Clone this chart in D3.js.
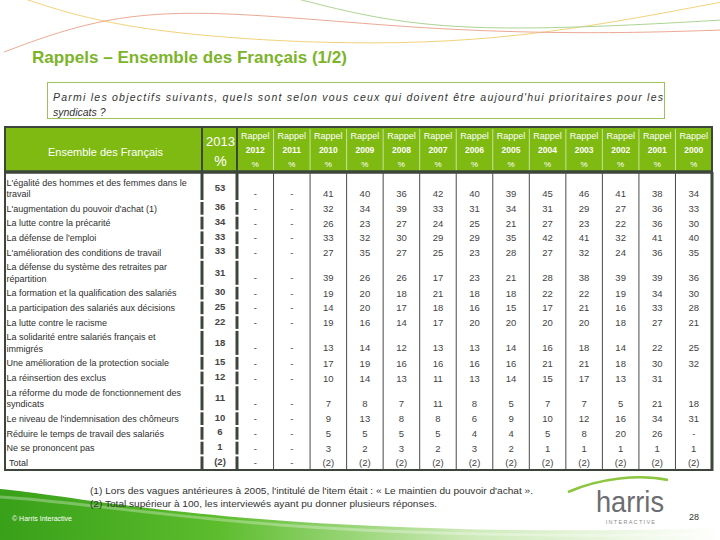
<!DOCTYPE html>
<html>
<head>
<meta charset="utf-8">
<script src="https://cdn.jsdelivr.net/npm/d3@7"></script>
<style>
  body { margin: 0; background: #fff; }
  svg { display: block; font-family: "Liberation Sans", Arial, sans-serif; }
</style>
</head>
<body>
<div id="chart"></div>
<script>
// Items (line breaks as in the original table)
const categories = [
    "L'égalité des hommes et des femmes dans le\ntravail",
    "L'augmentation du pouvoir d'achat (1)",
    "La lutte contre la précarité",
    "La défense de l'emploi",
    "L'amélioration des conditions de travail",
    "La défense du système des retraites par\nrépartition",
    "La formation et la qualification des salariés",
    "La participation des salariés aux décisions",
    "La lutte contre le racisme",
    "La solidarité entre salariés français et\nimmigrés",
    "Une amélioration de la protection sociale",
    "La réinsertion des exclus",
    "La réforme du mode de fonctionnement des\nsyndicats",
    "Le niveau de l'indemnisation des chômeurs",
    "Réduire le temps de travail des salariés",
    "Ne se prononcent pas",
    "Total"
];

const years = ["2012", "2011", "2010", "2009", "2008", "2007", "2006", "2005", "2004", "2003", "2002", "2001", "2000"];

// 2013 wave
const v2013 = [53, 36, 34, 33, 33, 31, 30, 25, 22, 18, 15, 12, 11, 10, 6, 1, "(2)"];

// previous waves ("-" = not asked, "" = empty cell)
const r2012 = ["-", "-", "-", "-", "-", "-", "-", "-", "-", "-", "-", "-", "-", "-", "-", "-", "-"];
const r2011 = ["-", "-", "-", "-", "-", "-", "-", "-", "-", "-", "-", "-", "-", "-", "-", "-", "-"];
const r2010 = [41, 32, 26, 33, 27, 39, 19, 14, 19, 13, 17, 10, 7, 9, 5, 3, "(2)"];
const r2009 = [40, 34, 23, 32, 35, 26, 20, 20, 16, 14, 19, 14, 8, 13, 5, 2, "(2)"];
const r2008 = [36, 39, 27, 30, 27, 26, 18, 17, 14, 12, 16, 13, 7, 8, 5, 3, "(2)"];
const r2007 = [42, 33, 24, 29, 25, 17, 21, 18, 17, 13, 16, 11, 11, 8, 5, 2, "(2)"];
const r2006 = [40, 31, 25, 29, 23, 23, 18, 16, 20, 13, 16, 13, 8, 6, 4, 3, "(2)"];
const r2005 = [39, 34, 21, 35, 28, 21, 18, 15, 20, 14, 16, 14, 5, 9, 4, 2, "(2)"];
const r2004 = [45, 31, 27, 42, 27, 28, 22, 17, 20, 16, 21, 15, 7, 10, 5, 1, "(2)"];
const r2003 = [46, 29, 23, 41, 32, 38, 22, 21, 20, 18, 21, 17, 7, 12, 8, 1, "(2)"];
const r2002 = [41, 27, 22, 32, 24, 39, 19, 16, 18, 14, 18, 13, 5, 16, 20, 1, "(2)"];
const r2001 = [38, 36, 36, 41, 36, 39, 34, 33, 27, 22, 30, 31, 21, 34, 26, 1, "(2)"];
const r2000 = [34, 33, 30, 40, 35, 36, 30, 28, 21, 25, 32, "", 18, 31, "-", 1, "(2)"];

const rappels = [r2012, r2011, r2010, r2009, r2008, r2007, r2006, r2005, r2004, r2003, r2002, r2001, r2000];

const title = "Rappels – Ensemble des Français (1/2)";
const question = ["Parmi les objectifs suivants, quels sont selon vous ceux qui doivent être aujourd'hui prioritaires pour les", "syndicats ?"];
const notes = [
    "(1) Lors des vagues antérieures à 2005, l'intitulé de l'item était : « Le maintien du pouvoir d'achat ».",
    "(2) Total supérieur à 100, les interviewés ayant pu donner plusieurs réponses."
];

const W = 720, H = 540;
const green = "#7fba12";
const dark = "#3d463b";

const svg = d3.select("#chart").append("svg")
    .attr("width", W)
    .attr("height", H);

const defs = svg.append("defs");

// ---- decorative curves at the top
const curve = d3.line().curve(d3.curveBasis);
svg.append("path")
    .attr("d", curve([[22, -2], [120, 30], [330, 46], [520, 40], [722, 2]]))
    .style("fill", "none").style("stroke", "#f2d27a").style("stroke-width", 1);
svg.append("path")
    .attr("d", curve([[4, 52], [90, 20], [200, 8], [420, 30], [600, 34], [722, 30]]))
    .style("fill", "none").style("stroke", "#eba994").style("stroke-width", 1);
svg.append("path")
    .attr("d", curve([[298, -1], [380, 20], [480, 30], [620, 26], [722, 20]]))
    .style("fill", "none").style("stroke", "#acd494").style("stroke-width", 1);

// ---- bottom green swoosh
const grad = defs.append("linearGradient").attr("id", "swoosh")
    .attr("x1", "0%").attr("x2", "100%").attr("y1", "0%").attr("y2", "0%");
grad.append("stop").attr("offset", "0%").attr("stop-color", "#38a019");
grad.append("stop").attr("offset", "30%").attr("stop-color", "#5cbc2c");
grad.append("stop").attr("offset", "65%").attr("stop-color", "#cdeab8");
grad.append("stop").attr("offset", "100%").attr("stop-color", "#ffffff");

svg.append("path")
    .attr("d", "M0,489 C40,492 120,508 260,519 C400,530 560,533 720,528 L720,540 L0,540 Z")
    .style("fill", "url(#swoosh)");
svg.append("path")
    .attr("d", "M0,497 C60,500 150,515 280,525 C420,535 560,537 720,534")
    .style("fill", "none").style("stroke", "#ffffff").style("stroke-opacity", 0.3).style("stroke-width", 3);

svg.append("text")
    .attr("x", 12).attr("y", 521)
    .style("font-size", "7px").style("fill", "#ffffff")
    .text("© Harris Interactive");

// ---- title
svg.append("text")
    .attr("x", 32).attr("y", 63)
    .attr("textLength", 315).attr("lengthAdjust", "spacingAndGlyphs")
    .style("font-size", "17px").style("font-weight", "bold").style("fill", "#7cb42a")
    .text(title);

// ---- question box
svg.append("rect")
    .attr("x", 47.5).attr("y", 82.5).attr("width", 617).attr("height", 36)
    .style("fill", "#fff").style("stroke", "#9cc45a").style("stroke-width", 1);

svg.append("text")
    .attr("x", 53).attr("y", 101)
    .attr("textLength", 610).attr("lengthAdjust", "spacing")
    .style("font-size", "10.5px").style("font-style", "italic").style("fill", "#333")
    .text(question[0]);
svg.append("text")
    .attr("x", 53).attr("y", 116)
    .style("font-size", "10.5px").style("font-style", "italic").style("fill", "#333")
    .text(question[1]);

// ---- table geometry
const tableLeft = 5, labelRight = 202, col2013Right = 237, tableRight = 712;
const headTop = 127, headBottom = 172, bodyTop = 175;

const x = d3.scaleBand()
    .domain(years)
    .range([col2013Right, tableRight]);

const lines = categories.map(c => c.split("\n"));
const rowH = lines.map(l => l.length > 1 ? 26 : 14.7);
const rowTop = rowH.map((h, i) => bodyTop + d3.sum(rowH.slice(0, i)));
const bodyBottom = bodyTop + d3.sum(rowH);

// header
svg.append("rect")
    .attr("x", tableLeft).attr("y", headTop)
    .attr("width", tableRight - tableLeft).attr("height", headBottom - headTop)
    .style("fill", green).style("stroke", dark).style("stroke-width", 2);

svg.append("g")
    .selectAll("line")
    .data(years.slice(1))
    .enter().append("line")
    .attr("x1", d => x(d)).attr("x2", d => x(d))
    .attr("y1", headTop + 2).attr("y2", headBottom - 1)
    .style("stroke", "#c9e39b").style("stroke-width", 1);

[labelRight, col2013Right].forEach(v => {
    svg.append("line")
        .attr("x1", v).attr("x2", v).attr("y1", headTop).attr("y2", headBottom)
        .style("stroke", dark).style("stroke-width", 2);
});
svg.append("line")
    .attr("x1", tableLeft - 1).attr("x2", tableRight + 1)
    .attr("y1", headBottom).attr("y2", headBottom)
    .style("stroke", dark).style("stroke-width", 3.5);

svg.append("text")
    .attr("x", (tableLeft + labelRight) / 2 + 2).attr("y", 156)
    .attr("text-anchor", "middle")
    .style("font-size", "11px").style("fill", "#fff")
    .text("Ensemble des Français");

svg.append("text")
    .attr("x", (labelRight + col2013Right) / 2 + 1).attr("y", 146)
    .attr("text-anchor", "middle")
    .style("font-size", "13px").style("fill", "#fff")
    .text("2013");
svg.append("text")
    .attr("x", (labelRight + col2013Right) / 2 + 1).attr("y", 166)
    .attr("text-anchor", "middle")
    .style("font-size", "14px").style("fill", "#fff")
    .text("%");

const headCells = svg.append("g")
    .selectAll("g")
    .data(years)
    .enter().append("g")
    .attr("transform", d => `translate(${x(d) + x.bandwidth() / 2},0)`);
headCells.append("text")
    .attr("y", 139).attr("text-anchor", "middle")
    .style("font-size", "9px").style("fill", "#fff")
    .text("Rappel");
headCells.append("text")
    .attr("y", 153).attr("text-anchor", "middle")
    .style("font-size", "8.5px").style("font-weight", "bold").style("fill", "#fff")
    .text(d => d);
headCells.append("text")
    .attr("y", 167).attr("text-anchor", "middle")
    .style("font-size", "8px").style("fill", "#fff")
    .text("%");

// body frame
svg.append("g")
    .selectAll("line")
    .data(years.slice(1))
    .enter().append("line")
    .attr("x1", d => x(d)).attr("x2", d => x(d))
    .attr("y1", headBottom).attr("y2", bodyBottom)
    .style("stroke", "#4a4a4a").style("stroke-width", 1);

svg.append("line")
    .attr("x1", tableLeft).attr("x2", tableLeft).attr("y1", headBottom).attr("y2", bodyBottom)
    .style("stroke", dark).style("stroke-width", 2);
svg.append("line")
    .attr("x1", tableRight).attr("x2", tableRight).attr("y1", headBottom).attr("y2", bodyBottom + 1)
    .style("stroke", dark).style("stroke-width", 3);
svg.append("line")
    .attr("x1", tableLeft - 1).attr("x2", tableRight + 1).attr("y1", bodyBottom).attr("y2", bodyBottom)
    .style("stroke", dark).style("stroke-width", 2);

// 2013 column borders, one segment per row
[labelRight, col2013Right].forEach(v => {
    svg.append("g")
        .selectAll("line")
        .data(rowH)
        .enter().append("line")
        .attr("x1", v).attr("x2", v)
        .attr("y1", (h, i) => rowTop[i] + 1)
        .attr("y2", (h, i) => rowTop[i] + h - 1)
        .style("stroke", dark).style("stroke-width", 3);
    svg.append("line")
        .attr("x1", v).attr("x2", v).attr("y1", headBottom).attr("y2", bodyTop + 1)
        .style("stroke", dark).style("stroke-width", 3);
});

// rows
const rows = svg.append("g")
    .selectAll("g")
    .data(categories)
    .enter().append("g")
    .attr("transform", (d, i) => `translate(0,${rowTop[i]})`);

rows.append("text")
    .style("font-size", "9px").style("fill", "#2f2f2f")
    .each(function(d, i) {
        const l = lines[i];
        const xl = i === categories.length - 1 ? 9 : 6.5;
        const y0 = rowH[i] / 2 - (l.length - 1) * 5.7 + 3.2;
        d3.select(this).selectAll("tspan")
            .data(l)
            .enter().append("tspan")
            .attr("x", xl)
            .attr("y", (t, j) => y0 + j * 11.4)
            .text(t => t);
    });

rows.append("text")
    .attr("x", (labelRight + col2013Right) / 2 + 0.5)
    .attr("y", (d, i) => rowH[i] / 2 + (lines[i].length > 1 ? 3.2 : 2))
    .attr("text-anchor", "middle")
    .style("font-size", "9.5px").style("font-weight", "bold").style("fill", "#444")
    .text((d, i) => v2013[i]);

years.forEach((yr, k) => {
    rows.append("text")
        .attr("x", x(yr) + x.bandwidth() / 2)
        .attr("y", (d, i) => rowH[i] / 2 + (lines[i].length > 1 ? 8.5 : 3.6))
        .attr("text-anchor", "middle")
        .style("font-size", "9.5px").style("fill", "#444")
        .text((d, i) => rappels[k][i]);
});

// ---- notes
const noteLen = [443, 347];
notes.forEach((n, i) => {
    svg.append("text")
        .attr("x", 90).attr("y", 494 + i * 13)
        .attr("textLength", noteLen[i]).attr("lengthAdjust", "spacingAndGlyphs")
        .style("font-size", "9.5px").style("fill", "#333")
        .text(n);
});

// ---- harris logo and page number
svg.append("path")
    .attr("d", "M568,492 C600,478 640,474 668,480")
    .style("fill", "none").style("stroke", "#8cc63f").style("stroke-width", 2.5);
svg.append("text")
    .attr("x", 630).attr("y", 512).attr("text-anchor", "middle")
    .attr("textLength", 68).attr("lengthAdjust", "spacingAndGlyphs")
    .style("font-size", "30px").style("fill", "#6b6d70")
    .text("harris");
svg.append("text")
    .attr("x", 631).attr("y", 524).attr("text-anchor", "middle")
    .style("font-size", "5.5px").style("letter-spacing", "1.3px").style("fill", "#8a8c8e")
    .text("INTERACTIVE");
svg.append("text")
    .attr("x", 694).attr("y", 520).attr("text-anchor", "middle")
    .style("font-size", "9px").style("fill", "#333")
    .text("28");
</script>
</body>
</html>
